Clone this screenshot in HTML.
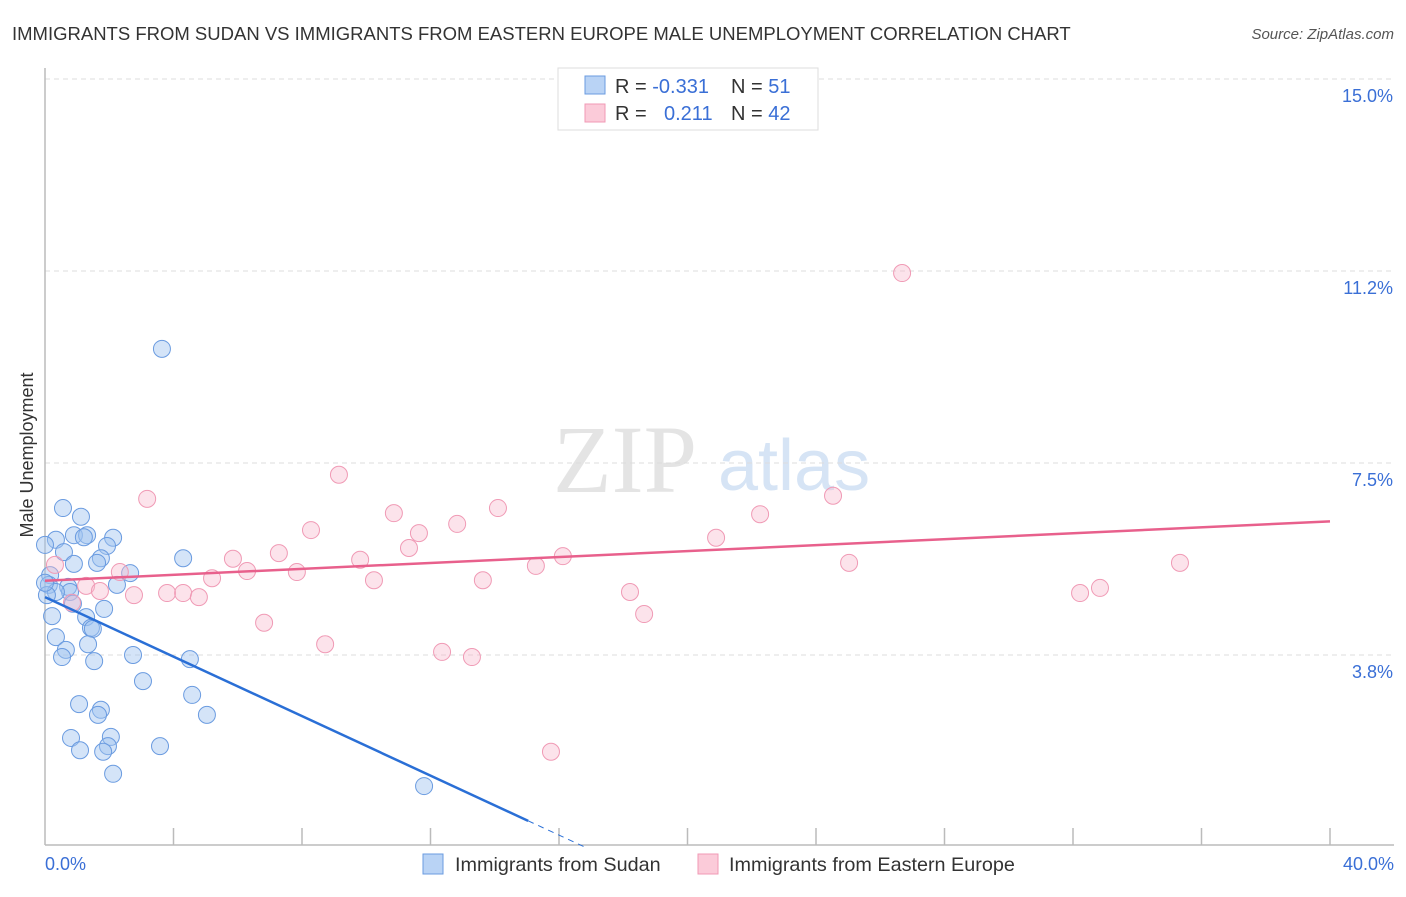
<!DOCTYPE html>
<html><head><meta charset="utf-8"><style>
body{margin:0;background:#fff;width:1406px;height:892px;overflow:hidden;font-family:"Liberation Sans",sans-serif}
</style></head><body>
<svg id="c" width="1406" height="892">
<text x="12" y="40" font-size="18.5" fill="#333">IMMIGRANTS FROM SUDAN VS IMMIGRANTS FROM EASTERN EUROPE MALE UNEMPLOYMENT CORRELATION CHART</text>
<text x="1394" y="39" font-size="15" fill="#555" font-style="italic" text-anchor="end">Source: ZipAtlas.com</text>
<g><text x="553" y="492" font-size="96" font-family="Liberation Serif,serif" fill="#e4e4e4">ZIP</text><text x="718" y="490" font-size="72" fill="#d6e4f5">atlas</text></g>
<g id="grid"></g>
<line x1="45" y1="68" x2="45" y2="845" stroke="#bbb" stroke-width="1.5"/>
<line x1="45" y1="845" x2="1394" y2="845" stroke="#bbb" stroke-width="1.5"/>
<g id="xt"></g>
<text x="45" y="870" font-size="18" fill="#3a6fd6">0.0%</text>
<text x="1394" y="870" font-size="18" fill="#3a6fd6" text-anchor="end">40.0%</text>
<text transform="translate(33,455) rotate(-90)" font-size="18" fill="#333" text-anchor="middle">Male Unemployment</text>
<g id="pts"></g>
<g id="lines"></g>
<g>
<rect x="558" y="68" width="260" height="62" fill="#fff" stroke="#ddd"/>
<rect x="585" y="76" width="20" height="18" fill="#b9d3f5" stroke="#6a9be0"/>
<rect x="585" y="104" width="20" height="18" fill="#fbcbd9" stroke="#f09ab5"/>
<text x="615" y="93" font-size="20" fill="#333">R = <tspan fill="#3a6fd6">-0.331</tspan><tspan x="731">N = </tspan><tspan fill="#3a6fd6">51</tspan></text>
<text x="615" y="120" font-size="20" fill="#333">R = <tspan x="664" fill="#3a6fd6">0.211</tspan><tspan x="731">N = </tspan><tspan fill="#3a6fd6">42</tspan></text>
</g>
<g>
<rect x="423" y="854" width="20" height="20" fill="#b9d3f5" stroke="#6a9be0"/>
<text x="455" y="871" font-size="19.8" fill="#333">Immigrants from Sudan</text>
<rect x="698" y="854" width="20" height="20" fill="#fbcbd9" stroke="#f09ab5"/>
<text x="729" y="871" font-size="19.8" fill="#333">Immigrants from Eastern Europe</text>
</g>
</svg>
<script>
const yTicks=[3.75,7.5,11.25,15];
const yTickLabels=["3.8%","7.5%","11.2%","15.0%"];
const sudanX=[3.64,0.56,1.12,0.90,1.31,1.21,2.12,0.34,1.93,0.59,1.74,4.30,0.90,1.62,2.65,0.16,0.12,2.24,0.72,0.78,0.34,0.87,1.84,0.22,1.28,1.43,1.49,0.34,1.34,2.74,0.65,0.53,4.51,1.53,3.05,4.58,1.06,1.74,1.65,5.04,2.05,0.81,1.96,3.58,1.09,1.81,2.12,11.80,0,0.06,0];
const sudanY=[9.73,6.62,6.45,6.09,6.09,6.05,6.04,6.00,5.88,5.76,5.64,5.64,5.53,5.55,5.35,5.31,5.12,5.12,5.08,4.98,4.98,4.75,4.65,4.51,4.49,4.28,4.26,4.10,3.96,3.75,3.85,3.71,3.67,3.63,3.24,2.97,2.79,2.68,2.58,2.58,2.15,2.13,1.97,1.97,1.89,1.86,1.43,1.19,5.90,4.92,5.16];
const eeX=[26.68,9.15,3.18,14.10,24.53,10.86,22.26,12.83,8.28,11.64,20.89,11.33,7.28,5.85,9.81,16.12,25.03,35.33,6.29,2.33,15.28,7.84,5.20,10.24,13.63,1.28,1.71,3.80,4.30,4.79,2.77,18.21,32.22,32.84,0.84,18.65,6.82,8.72,12.36,13.29,15.75,0.31];
const eeY=[11.21,7.27,6.80,6.62,6.86,6.52,6.50,6.31,6.19,6.13,6.04,5.84,5.74,5.63,5.61,5.68,5.55,5.55,5.39,5.37,5.49,5.37,5.25,5.21,5.21,5.10,5.00,4.96,4.96,4.88,4.92,4.98,4.96,5.06,4.77,4.55,4.38,3.96,3.81,3.71,1.86,5.51];
const sudanTrend=[4.88,-6.74];
const eeTrend=[5.20,6.36];
const NS="http://www.w3.org/2000/svg";
const X=v=>45+v/40*1285, Y=v=>847-v*51.2;
function mk(t,a,p){const e=document.createElementNS(NS,t);for(const k in a)e.setAttribute(k,a[k]);p.appendChild(e);return e;}
const grid=document.getElementById('grid');
yTicks.forEach((t,i)=>{
 const l=mk('line',{x1:45,x2:1394,y1:Y(t),y2:Y(t),stroke:'#ddd','stroke-dasharray':'5,4'},grid);
 
 
 const tx=mk('text',{x:1393,y:Y(t)+23,'font-size':18,fill:'#3a6fd6','text-anchor':'end'},grid);
 tx.textContent=yTickLabels[i];
 
 
});
const xt=document.getElementById('xt');
for(let i=1;i<=10;i++){const l=mk('line',{x1:X(i*4),x2:X(i*4),y1:828,y2:845,stroke:'#bbb','stroke-width':1.5},xt);
 
 }
const pts=document.getElementById('pts');
sudanX.forEach((x,i)=>{const c=mk('circle',{cx:X(x),cy:Y(sudanY[i]),r:8.5,fill:'rgba(160,195,240,0.45)',stroke:'#6a9be0','stroke-width':1},pts);
 
 });
eeX.forEach((x,i)=>{const c=mk('circle',{cx:X(x),cy:Y(eeY[i]),r:8.5,fill:'rgba(248,185,205,0.4)',stroke:'#f09ab5','stroke-width':1},pts);
 
 });
const lines=document.getElementById('lines');
const sy=x=>sudanTrend[0]+(sudanTrend[1]-sudanTrend[0])*x/40;
const b1=mk('line',{x1:X(0),y1:Y(sy(0)),x2:X(15.04),y2:Y(sy(15.04)),stroke:'#2a6fd6','stroke-width':2.5},lines);


const b2=mk('line',{x1:X(15.04),y1:Y(sy(15.04)),x2:X(16.8),y2:Y(sy(16.8)),stroke:'#2a6fd6','stroke-width':1,'stroke-dasharray':'6,5'},lines);


const p1=mk('line',{x1:X(0),y1:Y(eeTrend[0]),x2:X(40),y2:Y(eeTrend[1]),stroke:'#e8608c','stroke-width':2.5},lines);


</script>
</body></html>
